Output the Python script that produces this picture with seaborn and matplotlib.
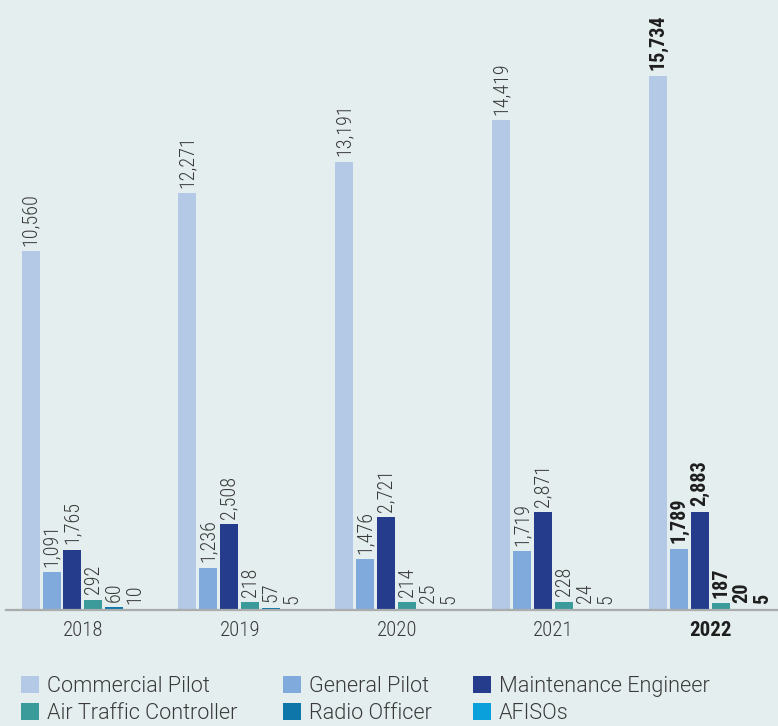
import matplotlib
matplotlib.use("Agg")
import matplotlib.pyplot as plt
import seaborn as sns
import pandas as pd
from matplotlib.patches import Patch

years = ["2018", "2019", "2020", "2021", "2022"]
categories = ["Commercial Pilot", "General Pilot", "Maintenance Engineer",
              "Air Traffic Controller", "Radio Officer", "AFISOs"]
commercial_pilot = [10560, 12271, 13191, 14419, 15734]
general_pilot = [1091, 1236, 1476, 1719, 1789]
maintenance_engineer = [1765, 2508, 2721, 2871, 2883]
air_traffic_controller = [292, 218, 214, 228, 187]
radio_officer = [60, 57, 25, 24, 20]
afisos = [10, 5, 5, 5, 5]
colors = ["#b3c9e6", "#80aadb", "#253c8c", "#3a9b9a", "#0e76a8", "#0aa0dc"]

series = [commercial_pilot, general_pilot, maintenance_engineer,
          air_traffic_controller, radio_officer, afisos]
rows = []
for cat, vals in zip(categories, series):
    for y, v in zip(years, vals):
        rows.append({"Year": y, "Category": cat, "Value": v})
df = pd.DataFrame(rows)

FAM = "Roboto Condensed"
LEG_FAM = "Roboto"
bg = "#e4eeee"
txt_col = "#3a3a3a"
sns.set_style("white")
plt.rcParams["font.family"] = [FAM, "DejaVu Sans"]
plt.rcParams["font.weight"] = 300

W, H = 778, 726
fig = plt.figure(figsize=(W / 100, H / 100), dpi=100, facecolor=bg)
ax = fig.add_axes([6 / W, (H - 609.5) / H, (W - 6) / W, 609.5 / H])
ax.set_facecolor(bg)

sns.barplot(data=df, x="Year", y="Value", hue="Category", hue_order=categories,
            palette=colors, width=0.8, gap=0.14, ax=ax, legend=False,
            saturation=1, errorbar=None, linewidth=0)

for i, cont in enumerate(ax.containers):
    labels = [f"{int(round(b.get_height())):,}" for b in cont]
    texts = ax.bar_label(cont, labels=labels, rotation=90, padding=4,
                         fontsize=14.5, color=txt_col, fontweight=300)
    for j, t in enumerate(texts):
        if j == len(years) - 1:
            t.set_fontweight("bold")
            t.set_color("#1e1e1e")

ax.set_xlim(-0.49, 4.43)
ax.set_ylim(0, 17960)
ax.set_xlabel("")
ax.set_ylabel("")
ax.set_yticks([])
for s in ["top", "left", "right"]:
    ax.spines[s].set_visible(False)
ax.spines["bottom"].set_color("#a9adad")
ax.spines["bottom"].set_linewidth(1.6)
ax.tick_params(axis="x", length=0, pad=8, labelsize=15, labelcolor=txt_col)
for lbl in ax.get_xticklabels():
    lbl.set_fontweight(300)
    if lbl.get_text() == "2022":
        lbl.set_fontweight("bold")
        lbl.set_color("#1e1e1e")

handles = [Patch(facecolor=c, edgecolor="none") for c in colors]
fs = 15.6
fpx = fs * 100 / 72
col_x = [21, 283, 473]
for c in range(3):
    idx = [c, c + 3]
    fig.legend([handles[k] for k in idx], [categories[k] for k in idx],
               loc="upper left", bbox_to_anchor=(col_x[c] / W, (H - 676) / H),
               frameon=False, handlelength=18 / fpx,
               handleheight=18 / fpx, handletextpad=0.36,
               labelspacing=0.29, borderpad=0, borderaxespad=0,
               labelcolor=txt_col,
               prop={"family": LEG_FAM, "weight": 300, "size": fs})

fig.savefig("out.png", dpi=100, facecolor=bg)
